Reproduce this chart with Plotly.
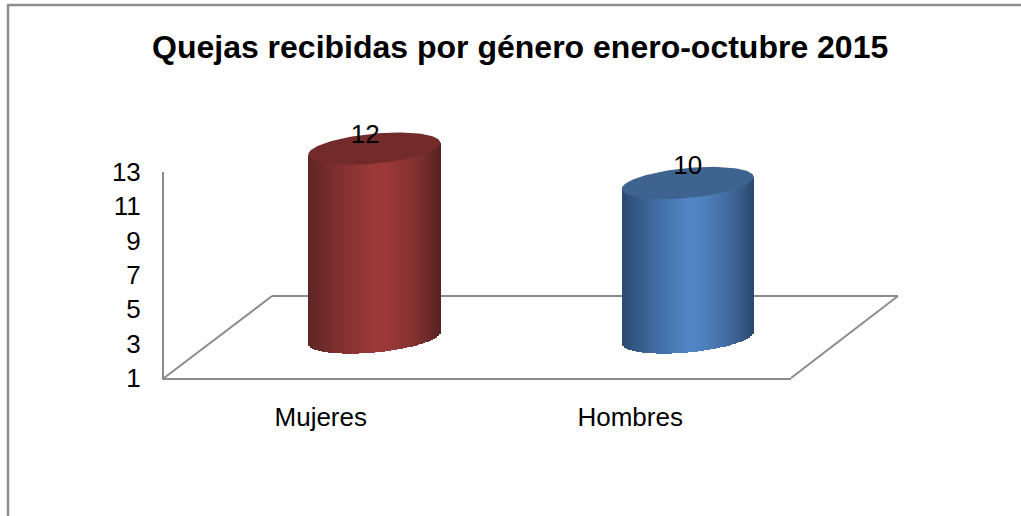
import numpy as np
import plotly.graph_objects as go

# Data
title = "Quejas recibidas por género enero-octubre 2015"
categories = ["Mujeres", "Hombres"]
values = [12, 10]
tick_values = [1, 3, 5, 7, 9, 11, 13]

# Style
W, H = 1021, 516
FONT = "Liberation Sans, Arial, sans-serif"
side_stops = {
    "Mujeres": [(0, "#5c2625"), (.22, "#7f302f"), (.5, "#9d3a39"), (.62, "#9a3938"), (.85, "#7c2f2e"), (1, "#572322")],
    "Hombres": [(0, "#2b4b72"), (.22, "#40689c"), (.5, "#5286c6"), (.62, "#4f81bf"), (.85, "#3f6596"), (1, "#2a486d")],
}
cap_color = {"Mujeres": "#722b2a", "Hombres": "#3e638f"}
label_dx = {"Mujeres": -9, "Hombres": 0}     # px offset of the value label
label_dy = {"Mujeres": 12, "Hombres": 15.5}  # px above cap centre

AX_L, AX_R, AX_T, AX_B = 164, 791, 172, 378      # front plane in px
UNIT_X = (AX_R - AX_L) / 2
UNIT_Y = (AX_B - AX_T) / 12
DEPTH_X, DEPTH_Y = 53.5, 40.5                    # px shift of bars into the floor
A, B, SHEAR = 66, 15, 6                          # ellipse half width, half height, tilt
N = 66


def hexrgb(c):
    return np.array([int(c[i:i + 2], 16) for i in (1, 3, 5)], float)


def ramp(stops, t):
    ps = [s[0] for s in stops]
    cs = np.array([hexrgb(s[1]) for s in stops])
    return "rgb(%d,%d,%d)" % tuple(np.interp(t, ps, cs[:, k]) for k in range(3))


fig = go.Figure()

# real axis carrying the tick labels
fig.add_trace(go.Scatter(x=[0, 1], y=[1, 1], mode="markers", marker=dict(opacity=0),
                         hoverinfo="skip", showlegend=False, yaxis="y"))

for i, (cat, val) in enumerate(zip(categories, values)):
    cx = i + DEPTH_X / UNIT_X
    u = (np.arange(N) + .5) / N * 2 - 1
    xs = cx + u * A / UNIT_X
    d_depth = DEPTH_Y / UNIT_Y
    tilt = SHEAR * u / UNIT_Y
    curve = B * np.sqrt(1 - u ** 2) / UNIT_Y
    base = 1 + d_depth + tilt - curve
    top = val + d_depth + tilt
    fig.add_trace(go.Bar(
        x=xs, y=top - base, base=base, width=[2.0 * A / N / UNIT_X * 1.25] * N,
        marker=dict(color=[ramp(side_stops[cat], (v + 1) / 2) for v in u], line=dict(width=0)),
        yaxis="y2", showlegend=False, hoverinfo="skip",
    ))
    th = np.linspace(0, 2 * np.pi, 121)
    fig.add_trace(go.Scatter(
        x=cx + np.cos(th) * A / UNIT_X,
        y=val + d_depth - (SHEAR * np.cos(th) * -1 + B * np.sin(th)) / UNIT_Y,
        mode="lines", fill="toself", fillcolor=cap_color[cat], line=dict(width=0),
        yaxis="y2", showlegend=False, hoverinfo="skip",
    ))

for i, (cat, val) in enumerate(zip(categories, values)):
    fig.add_trace(go.Scatter(
        x=[i + (DEPTH_X + label_dx[cat]) / UNIT_X],
        y=[val + (DEPTH_Y + label_dy[cat]) / UNIT_Y],
        mode="text", text=[str(val)], textposition="middle center",
        textfont=dict(family=FONT, size=26, color="#000000"),
        yaxis="y2", showlegend=False, hoverinfo="skip", cliponaxis=False,
    ))


def px(x, y):
    return x / W, 1 - y / H


def seg(x0, y0, x1, y1, color="#8c8c8c", width=2):
    a, b = px(x0, y0), px(x1, y1)
    return dict(type="line", xref="paper", yref="paper", x0=a[0], y0=a[1], x1=b[0], y1=b[1],
                line=dict(color=color, width=width), layer="below")


shapes = [
    seg(7, 5, W, 5, "#8e8e8e", 2.5),
    seg(8, 4, 8, H, "#8e8e8e", 2.5),
    seg(AX_L, AX_B, 272, 296),
    seg(272, 296, 898, 296),
    seg(898, 296, AX_R, AX_B),
]

v_at = lambda p: 1 + (AX_B - p) / UNIT_Y
fig.update_layout(
    width=W, height=H, margin=dict(l=0, r=0, t=0, b=0, pad=0, autoexpand=False),
    paper_bgcolor="#ffffff", plot_bgcolor="rgba(0,0,0,0)",
    barmode="overlay", bargap=0, shapes=shapes,
    annotations=[dict(text="<b>%s</b>" % title, x=520 / W, y=1 - 47 / H, xref="paper", yref="paper",
                      xanchor="center", yanchor="middle", showarrow=False,
                      font=dict(family=FONT, size=32, color="#000000"))],
    xaxis=dict(domain=[AX_L / W, AX_R / W], range=[-.5, 1.5], tickmode="array",
               tickvals=[0, 0.987], ticktext=categories,
               showgrid=False, zeroline=False, showline=True, linecolor="#8c8c8c", linewidth=2,
               ticks="outside", ticklen=15, tickcolor="rgba(0,0,0,0)",
               tickfont=dict(family=FONT, size=26, color="#000000"), anchor="y"),
    yaxis=dict(domain=[1 - AX_B / H, 1 - AX_T / H], range=[1, 13], tickmode="array",
               tickvals=tick_values, showgrid=False, zeroline=False, showline=True,
               linecolor="#8c8c8c", linewidth=2, ticks="outside", ticklen=16,
               tickcolor="rgba(0,0,0,0)", tickfont=dict(family=FONT, size=26, color="#000000"), anchor="x"),
    yaxis2=dict(domain=[0, 1], range=[v_at(H), v_at(0)], visible=False, anchor="x"),
)

fig.write_html("out.html", config={"displayModeBar": False}, post_script="document.body.style.margin='0';")
